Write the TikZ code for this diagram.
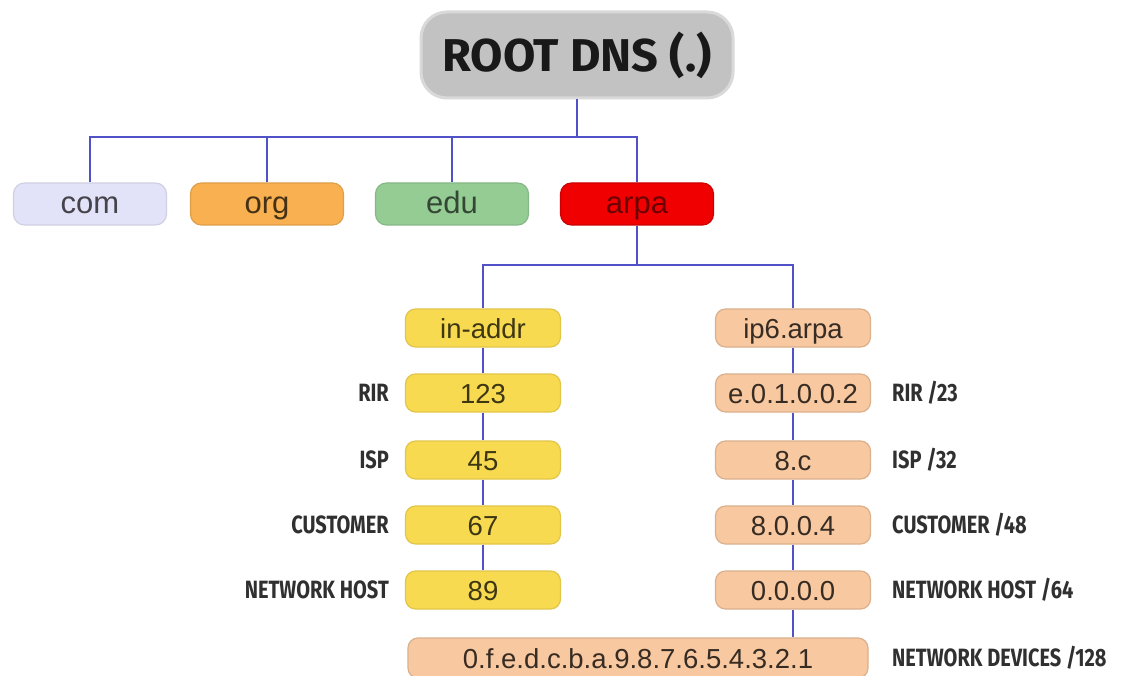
\documentclass[tikz,border=0pt]{standalone}
\usepackage{fontspec}
\setmainfont{Liberation Sans}
\newfontfamily\headfont{Fira Sans}
\usetikzlibrary{calc}
\definecolor{linkblue}{HTML}{5252C8}
\definecolor{comfill}{HTML}{E2E2F8}
\definecolor{orgfill}{HTML}{F8B050}
\definecolor{edufill}{HTML}{94CC94}
\definecolor{arpafill}{HTML}{F00000}
\definecolor{v4fill}{HTML}{F8DA50}
\definecolor{v6fill}{HTML}{F8C8A0}
\definecolor{labelgray}{HTML}{303030}
\tikzset{
  link/.style={draw=linkblue, line width=2.8pt},
  zone/.style={rounded corners=11pt, minimum width=153pt, minimum height=42pt,
    inner sep=0pt, font=\fontsize{31}{31}\selectfont, line width=1.2pt,
    text height=20pt, text depth=0pt},
  level/.style={rounded corners=10pt, minimum width=155pt, minimum height=38pt,
    inner sep=0pt, font=\fontsize{27.5}{27.5}\selectfont, line width=1.2pt,
    text height=20pt, text depth=0pt},
  v4box/.style={level, fill=v4fill, draw=v4fill!85!black!60!v4fill, text=black!75!v4fill},
  v6box/.style={level, fill=v6fill, draw=v6fill!88!black, text=black!78!v6fill},
  tag/.style={inner sep=0pt, text=labelgray,
    font=\headfont\bfseries\fontsize{25}{25}\selectfont},
}
\newcommand{\narrow}[1]{\scalebox{0.8}[1]{#1}}
\begin{document}
\begin{tikzpicture}[x=1pt,y=-1pt]
\useasboundingbox[fill=white] (0,0) rectangle (1124,676);

% root of the tree
\node[rounded corners=26pt, minimum width=312pt, minimum height=86pt, inner sep=0pt,
  fill=gray!48, draw=gray!30, line width=3pt,
  font=\headfont\bfseries\fontsize{46}{46}\selectfont, text=black!90]
  (root) at (577,55) {\scalebox{1.02}[1]{ROOT DNS (.)}};

% top-level domains
\node[zone, fill=comfill, draw=comfill!92!black, text=black!70!comfill] (com) at (90,204) {com};
\node[zone, fill=orgfill, draw=orgfill!90!black, text=black!72!orgfill] (org) at (267,204) {org};
\node[zone, fill=edufill, draw=edufill!90!black, text=black!65!edufill] (edu) at (452,204) {edu};
\node[zone, fill=arpafill, draw=arpafill!85!black, text=black!55!arpafill] (arpa) at (637,204) {arpa};

\coordinate (bus1) at (577,137);
\draw[link] (root.south) -- (bus1);
\foreach \n in {com,org,edu,arpa} \draw[link] (\n.north) |- (bus1);

% reverse lookup branches
\node[v4box] (inaddr) at (483,328) {in-addr};
\node[v6box] (ipsix) at (793,328) {ip6.arpa};

\coordinate (bus2) at (637,265);
\draw[link] (arpa.south) -- (bus2);
\draw[link] (inaddr.north) |- (bus2);
\draw[link] (ipsix.north) |- (bus2);

% IPv4 delegation levels
\node[v4box] (a1) at (483,393) {123};
\node[v4box] (a2) at (483,460) {45};
\node[v4box] (a3) at (483,525) {67};
\node[v4box] (a4) at (483,590) {89};

% IPv6 delegation levels
\node[v6box] (b1) at (793,393) {e.0.1.0.0.2};
\node[v6box] (b2) at (793,460) {8.c};
\node[v6box] (b3) at (793,525) {8.0.0.4};
\node[v6box] (b4) at (793,590) {0.0.0.0};
\node[v6box, minimum width=460pt, minimum height=40pt] (b5) at (638,658)
  {0.f.e.d.c.b.a.9.8.7.6.5.4.3.2.1};

\draw[link] (inaddr.south) -- (a1.north);
\draw[link] (a1.south) -- (a2.north);
\draw[link] (a2.south) -- (a3.north);
\draw[link] (a3.south) -- (a4.north);

\draw[link] (ipsix.south) -- (b1.north);
\draw[link] (b1.south) -- (b2.north);
\draw[link] (b2.south) -- (b3.north);
\draw[link] (b3.south) -- (b4.north);
\draw[link] (b4.south) -- (b4.south |- b5.north);

% level captions
\node[tag, anchor=east] (l1) at (389,393) {\narrow{RIR}};
\node[tag, anchor=east] (l2) at (389,460) {\narrow{ISP}};
\node[tag, anchor=east] (l3) at (389,525) {\narrow{CUSTOMER}};
\node[tag, anchor=east] (l4) at (389,590) {\narrow{NETWORK HOST}};

\node[tag, anchor=west] (r1) at (892,393) {\narrow{RIR /23}};
\node[tag, anchor=west] (r2) at (892,460) {\narrow{ISP /32}};
\node[tag, anchor=west] (r3) at (892,525) {\narrow{CUSTOMER /48}};
\node[tag, anchor=west] (r4) at (892,590) {\narrow{NETWORK HOST /64}};
\node[tag, anchor=west] (r5) at (892,658) {\narrow{NETWORK DEVICES /128}};
\end{tikzpicture}
\end{document}
